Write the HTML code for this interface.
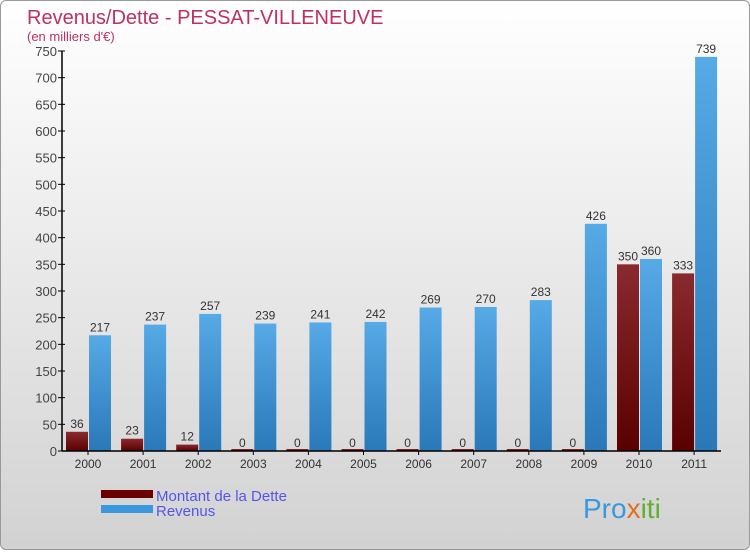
<!DOCTYPE html>
<html><head><meta charset="utf-8"><style>
body{margin:0;width:750px;height:550px;overflow:hidden;font-family:"Liberation Sans",sans-serif}
#wrap{position:absolute;left:0;top:0;width:748px;height:548px;border:1px solid #999;border-radius:6px;background:linear-gradient(#ffffff,#d2d2d2)}
</style></head><body>
<div id="wrap">
<svg id="chart" width="750" height="550">
<defs>
<linearGradient id="gDebt" x1="0" y1="0" x2="0" y2="1"><stop offset="0" stop-color="#8a2a2e"/><stop offset="1" stop-color="#5a0000"/></linearGradient>
<linearGradient id="gRev" x1="0" y1="0" x2="0" y2="1"><stop offset="0" stop-color="#56aae6"/><stop offset="1" stop-color="#2a78b8"/></linearGradient>
</defs>
<text x="26" y="23" font-size="20" fill="#c0305f">Revenus/Dette - PESSAT-VILLENEUVE</text>
<text x="26" y="40" font-size="13" fill="#c0305f">(en milliers d'€)</text>
<g id="bars"></g>
<g id="axes"></g>
<rect x="100" y="489" width="52" height="8" fill="#6a0000"/>
<rect x="100" y="504" width="52" height="8" fill="#3a98de"/>
<text x="155" y="500" font-size="15" fill="#5555ee">Montant de la Dette</text>
<text x="155" y="515" font-size="15" fill="#5555ee">Revenus</text>
<text x="582" y="517" font-size="28" fill="#3a98de">Pro<tspan fill="#e07020">x</tspan><tspan fill="#60b030">iti</tspan></text>
</svg>
</div>
<script>
const years=["2000","2001","2002","2003","2004","2005","2006","2007","2008","2009","2010","2011"];
const debt=[36,23,12,0,0,0,0,0,0,0,350,333];
const revenue=[217,237,257,239,241,242,269,270,283,426,360,739];
const yTicks=[0,50,100,150,200,250,300,350,400,450,500,550,600,650,700,750];
const NS="http://www.w3.org/2000/svg";
const y0=450,yTop=50,yMax=750,x0=61,step=55.1;
const Y=v=>y0-(v/yMax)*(y0-yTop);
const Xc=i=>x0+26+i*step;
function mk(t,a,p){const e=document.createElementNS(NS,t);for(const k in a)e.setAttribute(k,a[k]);p.appendChild(e);return e;}
const ax=document.getElementById('axes'),bars=document.getElementById('bars');
const yl=mk('line',{x1:x0,y1:yTop,x2:x0,y2:y0,stroke:'#000','stroke-width':1.5},ax);


const xl=mk('line',{x1:x0,y1:y0,x2:720,y2:y0,stroke:'#000','stroke-width':1.5},ax);


yTicks.forEach(v=>{
  mk('line',{x1:x0-4,y1:Y(v),x2:x0+3,y2:Y(v),stroke:'#000'},ax);
  const t=mk('text',{x:x0-5,y:Y(v)+5,'font-size':13,fill:'#444','text-anchor':'end'},ax);
  t.textContent=v;
  
  
});
years.forEach((yr,i)=>{
  const c=Xc(i);
  mk('line',{x1:c,y1:y0,x2:c,y2:y0+4,stroke:'#000'},ax);
  const t=mk('text',{x:c,y:y0+17,'font-size':12,fill:'#333','text-anchor':'middle'},ax);
  t.textContent=yr;
  
  
  const d=debt[i],r=revenue[i];
  const bd=mk('rect',{x:c-22,y:Y(d)-(d===0?2:0),width:22,height:Math.max(y0-Y(d),2),fill:'url(#gDebt)'},bars);
  
  
  const br=mk('rect',{x:c+1,y:Y(r),width:22,height:y0-Y(r),fill:'url(#gRev)'},bars);
  
  
  const ld=mk('text',{x:c-11,y:Y(d)-4,'font-size':12,fill:'#333','text-anchor':'middle'},bars);
  ld.textContent=d;
  
  
  const lr=mk('text',{x:c+12,y:Y(r)-4,'font-size':12,fill:'#333','text-anchor':'middle'},bars);
  lr.textContent=r;
  
  
});
</script>
</body></html>
